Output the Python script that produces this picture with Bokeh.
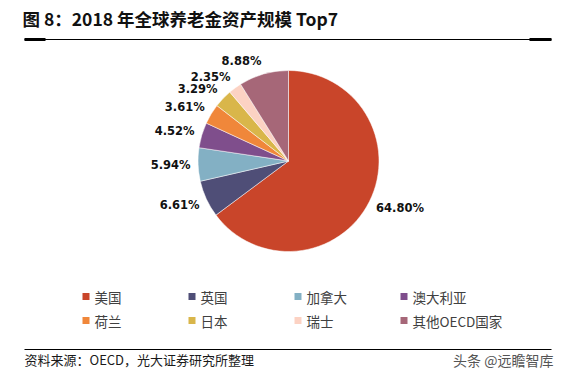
import math
from bokeh.plotting import figure
from bokeh.models import Range1d, ColumnDataSource, Label
from bokeh.core.properties import value
from bokeh.embed import file_html
from bokeh.resources import INLINE

# ---- data ----
countries = ["美国", "英国", "加拿大", "澳大利亚", "荷兰", "日本", "瑞士", "其他OECD国家"]
shares = [64.80, 6.61, 5.94, 4.52, 3.61, 3.29, 2.35, 8.88]
colors = ["#C9452A", "#4F4E77", "#83B0C4", "#7F4E8C", "#F0873A", "#D9B64A", "#FCD2C3", "#A66778"]
title_text = "图 8：2018 年全球养老金资产规模 Top7"
source_text = "资料来源：OECD，光大证券研究所整理"
watermark = "头条 @远瞻智库"

W, H = 564, 377
CJK = "Noto Sans CJK SC"

p = figure(width=W, height=H, output_backend="svg", toolbar_location=None,
           x_range=Range1d(0, W), y_range=Range1d(0, H), min_border=0,
           background_fill_color="white", border_fill_color="white")
p.xaxis.visible = False
p.yaxis.visible = False
p.xgrid.visible = False
p.ygrid.visible = False
p.outline_line_color = None

def Y(py):
    return H - py

# ---- pie ----
cx, cy, R = 288, Y(160.5), 90.5
total = sum(shares)
starts, ends, lx, ly, la = [], [], [], [], []
cum = 0.0
for s in shares:
    c0 = cum / total
    c1 = (cum + s) / total
    cum += s
    starts.append(math.pi / 2 - 2 * math.pi * c1)
    ends.append(math.pi / 2 - 2 * math.pi * c0)
    th = math.pi / 2 - 2 * math.pi * (c0 + c1) / 2
    dx, dy = math.cos(th), math.sin(th)
    lx.append(cx + (R + 7.5) * dx)
    ly.append(cy + (R + 7.5) * dy + dy * 6)
    la.append("left" if dx > 0 else "right")

src = ColumnDataSource(dict(start=starts, end=ends, color=colors,
                            lx=lx, ly=ly, la=la,
                            lab=["%.2f%%" % s for s in shares]))
p.wedge(x=cx, y=cy, radius=R, start_angle="start", end_angle="end",
        fill_color="color", line_color="white", line_width=0.5, source=src)
p.text(x="lx", y="ly", text="lab", text_align="la", text_baseline="middle",
       text_font=value("DejaVu Sans"), text_font_style="bold",
       text_font_size="11.5px", text_color="#111111", source=src)

# ---- legend (4 columns x 2 rows) ----
col_x = [82, 188, 294, 400]
row_y = [296, 320]
gx, gy, tx = [], [], []
for i in range(len(countries)):
    c, r = i % 4, i // 4
    gx.append(col_x[c] + 3.5)
    gy.append(Y(row_y[r]))
    tx.append(col_x[c] + 12)
lsrc = ColumnDataSource(dict(gx=gx, gy=gy, tx=tx, name=countries, color=colors))
p.scatter(x="gx", y="gy", marker="square", size=7, fill_color="color",
          line_color=None, source=lsrc)
p.text(x="tx", y="gy", text="name", text_baseline="middle",
       text_font=value(CJK), text_font_size="13.5px", text_color="#404040",
       source=lsrc)

# ---- title and rules ----
p.add_layout(Label(x=22, y=Y(18), text=title_text, text_baseline="middle",
                   text_font=CJK, text_font_style="bold", text_font_size="17.5px",
                   text_color="#111111"))
p.segment(x0=[24, 24, 529, 24], y0=[Y(39), Y(39), Y(39), Y(349)],
          x1=[551, 45, 551, 551], y1=[Y(39), Y(39), Y(39), Y(349)],
          line_width=[1, 3, 3, 1], line_color="black")
p.add_layout(Label(x=24, y=Y(359), text=source_text, text_baseline="middle",
                   text_font=CJK, text_font_size="13px", text_color="#1a1a1a"))
p.add_layout(Label(x=553, y=Y(359), text=watermark, text_baseline="middle",
                   text_align="right", text_font=CJK, text_font_size="14px",
                   text_color="#555555"))

open("out.html", "w").write(file_html(p, INLINE))
